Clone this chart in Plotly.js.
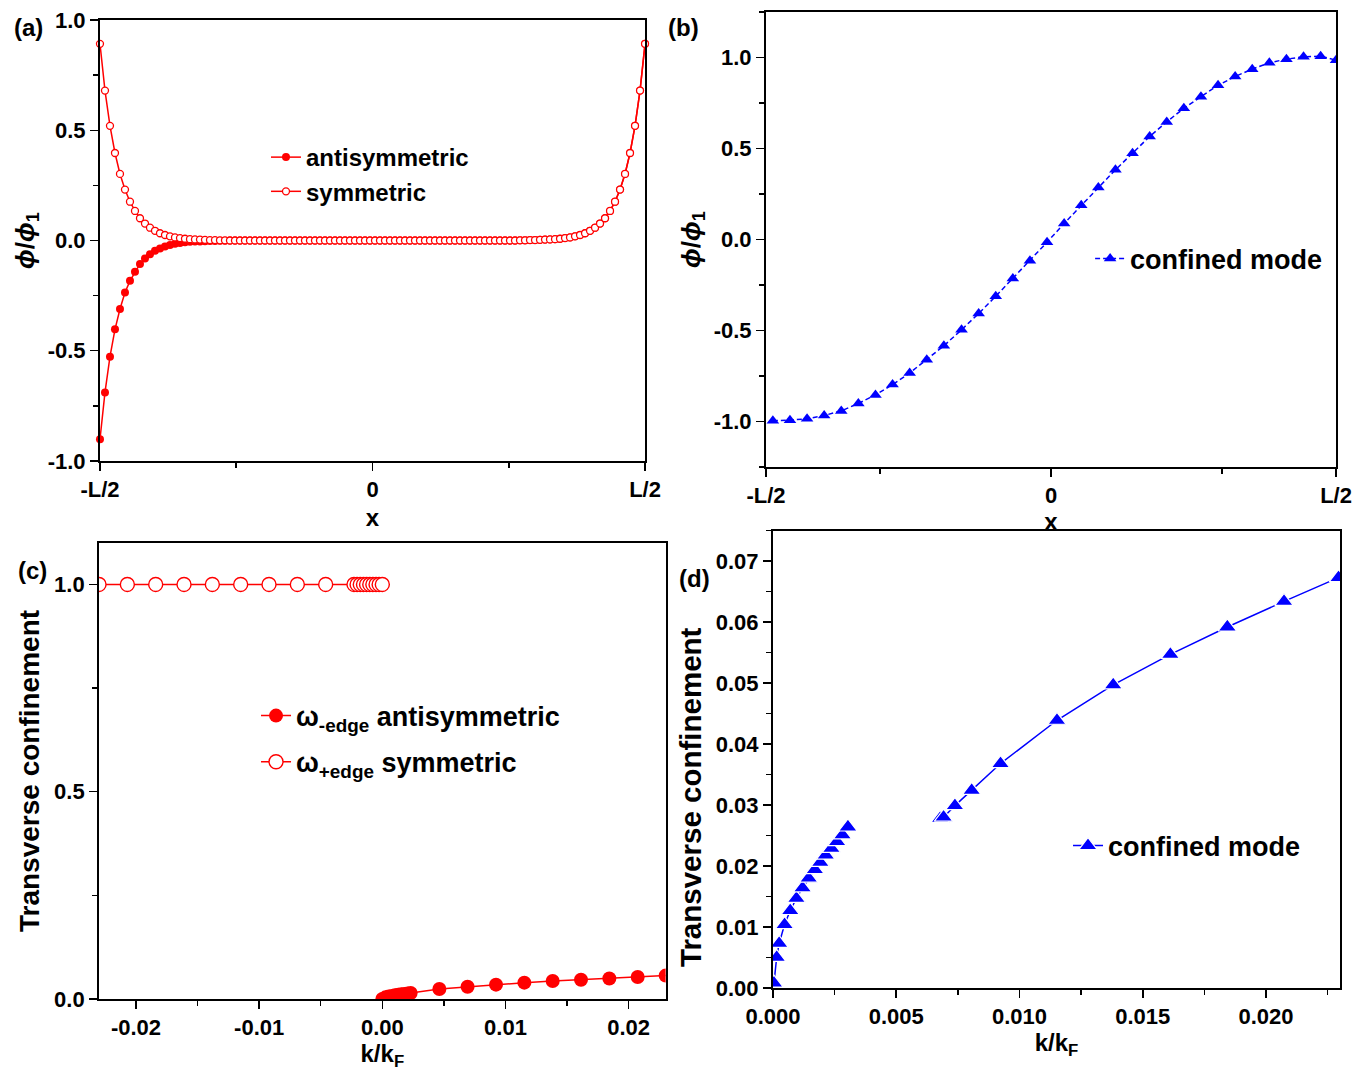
<!DOCTYPE html>
<html>
<head>
<meta charset="utf-8">
<script src="https://cdn.plot.ly/plotly-3.0.1.min.js"></script>
<style>
  html, body { margin: 0; padding: 0; background: #ffffff; }
  #chart { width: 1364px; height: 1072px; }
</style>
</head>
<body>
<div id="chart"></div>
<script>
// ---------- Panel (a): phi/phi1 versus x (grid index across -L/2 .. L/2) ----------
const aIndex = [
  0,1,2,3,4,5,6,7,8,9,
  10,11,12,13,14,15,16,17,18,19,
  20,21,22,23,24,25,26,27,28,29,
  30,31,32,33,34,35,36,37,38,39,
  40,41,42,43,44,45,46,47,48,49,
  50,51,52,53,54,55,56,57,58,59,
  60,61,62,63,64,65,66,67,68,69,
  70,71,72,73,74,75,76,77,78,79,
  80,81,82,83,84,85,86,87,88,89,
  90,91,92,93,94,95,96,97,98,99,
  100,101,102,103,104,105,106,107,108,109
];
const aAntisymmetric = [
  -0.901,-0.689,-0.527,-0.403,-0.311,-0.236,-0.183,-0.142,-0.106,-0.082,
  -0.062,-0.047,-0.036,-0.027,-0.020,-0.015,-0.011,-0.008,-0.006,-0.005,
  -0.004,-0.003,-0.002,-0.002,-0.001,-0.001,0,0,0,0,
  0,0,0,0,0,0,0,0,0,0,
  0,0,0,0,0,0,0,0,0,0,
  0,0,0,0,0,0,0,0,0,0,
  0,0,0,0,0,0,0,0,0,0,
  0,0,0,0,0,0,0,0,0,0,
  0,0,0,0,0.001,0.001,0.002,0.002,0.003,0.004,
  0.005,0.006,0.008,0.011,0.014,0.019,0.025,0.033,0.044,0.058,
  0.077,0.101,0.134,0.176,0.231,0.302,0.397,0.520,0.680,0.892
];
const aSymmetric = [
  0.892,0.680,0.520,0.397,0.302,0.231,0.176,0.134,0.101,0.077,
  0.058,0.044,0.033,0.025,0.019,0.014,0.011,0.008,0.006,0.005,
  0.004,0.003,0.002,0.002,0.001,0.001,0,0,0,0,
  0,0,0,0,0,0,0,0,0,0,
  0,0,0,0,0,0,0,0,0,0,
  0,0,0,0,0,0,0,0,0,0,
  0,0,0,0,0,0,0,0,0,0,
  0,0,0,0,0,0,0,0,0,0,
  0,0,0,0,0.001,0.001,0.002,0.002,0.003,0.004,
  0.005,0.006,0.008,0.011,0.014,0.019,0.025,0.033,0.044,0.058,
  0.077,0.101,0.134,0.176,0.231,0.302,0.397,0.520,0.680,0.892
];
const aXTickVals = [0, 54.5, 109];
const aXTickText = ['-L/2', '0', 'L/2'];
const aYTickVals = [-1, -0.5, 0, 0.5, 1];
const aYTickText = ['-1.0', '-0.5', '0.0', '0.5', '1.0'];

// ---------- Panel (b): confined mode profile (x in units of L) ----------
const bX = [
  -0.488,-0.458,-0.428,-0.398,-0.368,-0.338,-0.308,-0.278,-0.248,-0.218,
  -0.188,-0.157,-0.127,-0.097,-0.067,-0.037,-0.007,0.023,0.053,0.083,
  0.113,0.143,0.173,0.203,0.233,0.263,0.293,0.323,0.353,0.383,
  0.413,0.443,0.473,0.500
];
const bConfined = [
  -0.996,-0.993,-0.985,-0.967,-0.942,-0.901,-0.854,-0.797,-0.734,-0.661,
  -0.584,-0.496,-0.407,-0.312,-0.215,-0.117,-0.015,0.088,0.188,0.286,
  0.383,0.474,0.566,0.646,0.721,0.785,0.847,0.896,0.936,0.971,
  0.991,1.004,1.007,0.985
];
const bXTickVals = [-0.5, 0, 0.5];
const bXTickText = ['-L/2', '0', 'L/2'];
const bYTickVals = [-1, -0.5, 0, 0.5, 1];
const bYTickText = ['-1.0', '-0.5', '0.0', '0.5', '1.0'];

// ---------- Panel (c): transverse confinement vs k/kF ----------
const cAntiK = [
  0.0000,0.00026,0.00051,0.00077,0.00102,0.00128,0.00153,0.00179,0.00205,0.0023,
  0.00463,0.00692,0.00923,0.01153,0.01383,0.01613,0.01843,0.02073,0.0230
];
const cAntiConf = [
  0.000,0.004,0.006,0.0075,0.0088,0.0100,0.0112,0.0123,0.0134,0.0144,
  0.0240,0.0297,0.0346,0.0394,0.0435,0.0466,0.0495,0.0531,0.0564
];
const cSymK = [
  -0.0230,-0.0207,-0.0184,-0.0161,-0.0138,-0.0115,-0.0092,-0.0069,-0.0046,
  -0.0023,-0.00205,-0.00179,-0.00153,-0.00128,-0.00102,-0.00077,-0.00051,-0.00026,0.0000
];
const cSymConf = [
  1,1,1,1,1,1,1,1,1,
  1,1,1,1,1,1,1,1,1,1
];
const cXTickVals = [-0.02, -0.01, 0, 0.01, 0.02];
const cXTickText = ['-0.02', '-0.01', '0.00', '0.01', '0.02'];
const cYTickVals = [0, 0.5, 1.0];
const cYTickText = ['0.0', '0.5', '1.0'];

// ---------- Panel (d): confined mode, transverse confinement vs k/kF ----------
const dK = [
  0.00004,0.00015,0.00025,0.00047,0.00070,0.00095,0.00120,0.00145,0.00170,0.00192,
  0.00214,0.00237,0.00260,0.00282,0.00304,
  null,
  0.00678,0.00692,0.00738,0.00806,0.00923,0.01152,0.01380,0.01612,0.01843,
  0.02073,0.02294
];
const dConf = [
  0.0008,0.0050,0.0073,0.0104,0.0127,0.0147,0.0164,0.0180,0.0194,0.0206,
  0.0218,0.0229,0.0240,0.0251,0.0264,
  null,
  0.0278,0.0280,0.0299,0.0324,0.0368,0.0439,0.0497,0.0547,0.0592,
  0.0634,0.0673
];
const dXTickVals = [0, 0.005, 0.01, 0.015, 0.02];
const dXTickText = ['0.000', '0.005', '0.010', '0.015', '0.020'];
const dYTickVals = [0, 0.01, 0.02, 0.03, 0.04, 0.05, 0.06, 0.07];
const dYTickText = ['0.00', '0.01', '0.02', '0.03', '0.04', '0.05', '0.06', '0.07'];

const RED = '#ff0000';
const BLUE = '#0000ff';
const FONT = 'Liberation Sans, Arial, Helvetica, sans-serif';

const traces = [
  {
    x: aIndex, y: aAntisymmetric, xaxis: 'x', yaxis: 'y', legend: 'legend',
    type: 'scatter', mode: 'lines+markers', name: 'antisymmetric',
    line: {color: RED, width: 1.5},
    marker: {symbol: 'circle', size: 8, color: RED},
    cliponaxis: false
  },
  {
    x: aIndex, y: aSymmetric, xaxis: 'x', yaxis: 'y', legend: 'legend',
    type: 'scatter', mode: 'lines+markers', name: 'symmetric',
    line: {color: RED, width: 1.5},
    marker: {symbol: 'circle', size: 7, color: '#ffffff', line: {color: RED, width: 1.3}},
    cliponaxis: false
  },
  {
    x: bX, y: bConfined, xaxis: 'x2', yaxis: 'y2', legend: 'legend2',
    type: 'scatter', mode: 'lines+markers', name: 'confined mode',
    line: {color: BLUE, width: 1.5, dash: '5px,3px'},
    marker: {symbol: 'triangle-up', size: 11, color: BLUE}
  },
  {
    x: cAntiK, y: cAntiConf, xaxis: 'x3', yaxis: 'y3', legend: 'legend3', legendgroup: 'c1',
    type: 'scatter', mode: 'lines+markers',
    name: 'ω<sub>-edge</sub> antisymmetric',
    line: {color: RED, width: 1.5},
    marker: {symbol: 'circle', size: 14, color: RED}
  },
  {
    x: cSymK, y: cSymConf, xaxis: 'x3', yaxis: 'y3', legend: 'legend3', legendgroup: 'c2',
    type: 'scatter', mode: 'lines+markers',
    name: 'ω<sub>+edge</sub> symmetric',
    line: {color: RED, width: 1.5},
    marker: {symbol: 'circle', size: 14, color: '#ffffff', line: {color: RED, width: 1.4}}
  },
  {
    x: dK, y: dConf, xaxis: 'x4', yaxis: 'y4', legend: 'legend4',
    type: 'scatter', mode: 'lines+markers', name: 'confined mode',
    connectgaps: false,
    line: {color: BLUE, width: 1.5},
    marker: {symbol: 'triangle-up', size: 16, color: BLUE, line: {color: '#ffffff', width: 1.2}}
  }
];

function axisBase(extra) {
  return Object.assign({
    showline: true, mirror: true, linecolor: '#000', linewidth: 2,
    ticks: 'outside', ticklen: 8, tickwidth: 1.5, tickcolor: '#000',
    showgrid: false, zeroline: false, automargin: false,
    tickfont: {family: FONT, size: 22, color: '#000', weight: 'bold'},
    tickmode: 'array'
  }, extra);
}
function minor(t0, dt) {
  return {tick0: t0, dtick: dt, ticks: 'outside', ticklen: 5, tickwidth: 1.5, tickcolor: '#000'};
}
function ttl(text, size, standoff) {
  return {text: text, standoff: standoff, font: {family: FONT, size: size, color: '#000', weight: 'bold'}};
}
function legendAt(x, y, size, gap) {
  return {x: x, y: y, xanchor: 'left', yanchor: 'middle', bgcolor: 'rgba(0,0,0,0)',
          borderwidth: 0, itemwidth: 30, tracegroupgap: gap || 0,
          font: {family: FONT, size: size, color: '#000', weight: 'bold'}};
}

const textFont = (size) => ({family: FONT, size: size, color: '#000', weight: 'bold'});

const layout = {
  width: 1364, height: 1072,
  margin: {l: 0, r: 0, t: 0, b: 0, autoexpand: false},
  paper_bgcolor: '#fff', plot_bgcolor: '#fff',
  font: {family: FONT, size: 22, color: '#000', weight: 'bold'},
  showlegend: true,
  xaxis: axisBase({domain: [0.0733, 0.4729], anchor: 'y', range: [0, 109],
    tickvals: aXTickVals, ticktext: aXTickText, minor: minor(0, 27.25),
    title: ttl('x', 24, 8)}),
  yaxis: axisBase({domain: [0.5700, 0.9813], anchor: 'x', range: [-1, 1],
    tickvals: aYTickVals, ticktext: aYTickText, minor: minor(0, 0.25),
    title: ttl('<i>ϕ</i>/<i>ϕ</i><sub>1</sub>', 26, 6)}),
  xaxis2: axisBase({domain: [0.5616, 0.9795], anchor: 'y2', range: [-0.5, 0.5],
    tickvals: bXTickVals, ticktext: bXTickText, minor: minor(0, 0.3),
    title: ttl('x', 24, 2)}),
  yaxis2: axisBase({domain: [0.5644, 0.9888], anchor: 'x2', range: [-1.25, 1.25],
    tickvals: bYTickVals, ticktext: bYTickText, minor: minor(0, 0.25),
    title: ttl('<i>ϕ</i>/<i>ϕ</i><sub>1</sub>', 26, 6)}),
  xaxis3: axisBase({domain: [0.0726, 0.4880], anchor: 'y3', range: [-0.023, 0.023],
    tickvals: cXTickVals, ticktext: cXTickText, minor: minor(0, 0.005),
    title: ttl('k/k<sub>F</sub>', 24, 4)}),
  yaxis3: axisBase({domain: [0.0681, 0.4935], anchor: 'x3', range: [0, 1.1],
    tickvals: cYTickVals, ticktext: cYTickText, minor: minor(0, 0.25),
    title: ttl('Transverse confinement', 28, 6)}),
  xaxis4: axisBase({domain: [0.5667, 0.9824], anchor: 'y4', range: [0, 0.023],
    tickvals: dXTickVals, ticktext: dXTickText, minor: minor(0, 0.0025),
    title: ttl('k/k<sub>F</sub>', 24, 4)}),
  yaxis4: axisBase({domain: [0.0784, 0.5050], anchor: 'x4', range: [0, 0.075],
    tickvals: dYTickVals, ticktext: dYTickText, minor: minor(0, 0.005)}),
  legend: legendAt(0.1950, 0.8372, 24),
  legend2: legendAt(0.7992, 0.7584, 27),
  legend3: legendAt(0.1877, 0.3106, 27, 8),
  legend4: legendAt(0.7830, 0.2108, 27),
  annotations: [
    {text: '(a)', x: 28 / 1364, y: 1 - 27 / 1072, font: textFont(24)},
    {text: '(b)', x: 683 / 1364, y: 1 - 27 / 1072, font: textFont(24)},
    {text: '(c)', x: 32 / 1364, y: 1 - 570 / 1072, font: textFont(24)},
    {text: '(d)', x: 694 / 1364, y: 1 - 578 / 1072, font: textFont(24)},
    {text: 'Transverse confinement', x: 690 / 1364, y: 1 - 797 / 1072,
     textangle: -90, font: textFont(29.5)}
  ].map(a => Object.assign({xref: 'paper', yref: 'paper', xanchor: 'center', yanchor: 'middle',
    showarrow: false}, a))
};

Plotly.newPlot('chart', traces, layout, {displayModeBar: false, staticPlot: true});
</script>
</body>
</html>
